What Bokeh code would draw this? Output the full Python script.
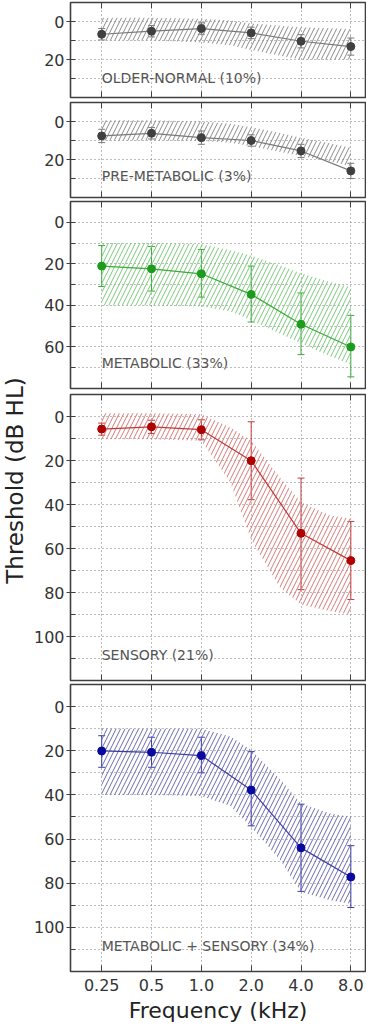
from math import pi
from bokeh.plotting import figure
from bokeh.models import (Range1d, FixedTicker, LogAxis, Whisker, TeeHead,
                          ColumnDataSource, CustomJSTickFormatter)
from bokeh.layouts import column, row
from bokeh.embed import file_html
from bokeh.resources import INLINE
from bokeh.core.properties import value

# ---------------- data ----------------
freqs = [0.25, 0.5, 1.0, 2.0, 4.0, 8.0]
freq_labels = ["0.25", "0.5", "1.0", "2.0", "4.0", "8.0"]
band_freqs = [0.25, 0.5, 1.0, 1.5, 2.0, 3.0, 4.0, 6.0, 8.0]

names = ["OLDER-NORMAL (10%)", "PRE-METABOLIC (3%)", "METABOLIC (33%)",
         "SENSORY (21%)", "METABOLIC + SENSORY (34%)"]

older_mean = [6.7, 5.1, 3.7, 6.0, 10.4, 13.2]
older_lo = [3.7, 2.1, 0.7, 3.0, 6.9, 8.7]
older_hi = [9.7, 8.1, 6.7, 9.0, 13.9, 17.7]
older_top = [-2.0, -2.0, -1.5, -0.5, 1.0, 2.2, 3.0, 3.6, 4.0]
older_bot = [10.0, 10.0, 11.0, 12.5, 15.0, 18.0, 20.0, 20.0, 20.0]

premet_mean = [7.6, 6.2, 8.5, 10.0, 15.5, 26.0]
premet_lo = [4.1, 3.2, 5.0, 7.0, 12.0, 22.0]
premet_hi = [11.1, 9.2, 12.0, 13.0, 19.0, 30.0]
premet_top = [-0.7, -0.7, 0.0, 1.2, 3.0, 6.0, 8.5, 11.5, 13.8]
premet_bot = [10.0, 10.0, 10.2, 11.2, 13.0, 16.0, 18.2, 21.0, 23.5]

met_mean = [21.1, 22.4, 24.8, 34.7, 49.1, 60.0]
met_lo = [11.2, 11.7, 13.1, 21.1, 34.0, 44.8]
met_hi = [30.9, 33.1, 36.0, 48.0, 63.7, 74.4]
met_top = [10.0, 10.0, 10.4, 13.5, 16.0, 20.8, 24.5, 28.8, 31.2]
met_bot = [40.0, 40.0, 40.5, 43.0, 47.2, 53.6, 58.4, 64.5, 68.5]

sens_mean = [5.7, 4.7, 6.0, 20.1, 53.1, 65.5]
sens_lo = [3.0, 1.7, 1.5, 2.4, 28.0, 47.7]
sens_hi = [8.5, 7.7, 10.6, 37.8, 78.7, 83.2]
sens_top = [-1.5, -1.5, -1.0, 5.0, 11.0, 28.0, 39.0, 45.0, 46.5]
sens_bot = [10.3, 10.3, 11.0, 30.0, 56.0, 78.0, 85.5, 88.5, 90.0]

ms_mean = [20.1, 20.7, 22.2, 37.8, 64.0, 77.2]
ms_lo = [13.2, 13.9, 13.9, 20.4, 44.2, 63.0]
ms_hi = [27.5, 27.5, 30.0, 54.0, 83.7, 91.0]
ms_top = [10.0, 10.0, 10.0, 13.6, 19.7, 33.0, 43.9, 48.4, 50.0]
ms_bot = [40.0, 40.0, 40.5, 45.0, 54.5, 69.6, 84.0, 87.7, 89.3]

y_max = [40, 40, 80, 120, 120]

# ---------------- styling ----------------
FONT = "DejaVu Sans"
styles = [
    dict(mk="#404040", ln="#7a7a7a", ht="#8a8a8a"),
    dict(mk="#404040", ln="#7a7a7a", ht="#8a8a8a"),
    dict(mk="#1c9c1c", ln="#3aaa3a", ht="#7cc87c"),
    dict(mk="#b00000", ln="#c03a3a", ht="#d67a7a"),
    dict(mk="#0a0a9e", ln="#3c3ca6", ht="#6a6aae"),
]
series = [
    (older_mean, older_lo, older_hi, older_top, older_bot),
    (premet_mean, premet_lo, premet_hi, premet_top, premet_bot),
    (met_mean, met_lo, met_hi, met_top, met_bot),
    (sens_mean, sens_lo, sens_hi, sens_top, sens_bot),
    (ms_mean, ms_lo, ms_hi, ms_top, ms_bot),
]
label_y = [29.5, 28.5, 67.6, 108.5, 108.3]
heights = [99, 100, 192, 291, 344]
borders = [(2, 2), (3, 2), (2, 3), (3, 2), (2, 55)]

X_LO, X_HI = 0.162, 9.81
PANEL_W = 338

fmt_js = CustomJSTickFormatter(args=dict(vals=freqs, labs=freq_labels),
                               code="const i = vals.indexOf(tick); return i >= 0 ? labs[i] : '';")


def inner_xaxis(show):
    ax = LogAxis(ticker=FixedTicker(ticks=freqs),
                 axis_line_color=None,
                 major_tick_in=6, major_tick_out=0,
                 minor_tick_in=0, minor_tick_out=0,
                 major_tick_line_color="#404040", major_tick_line_width=1)
    if show:
        ax.formatter = fmt_js
        ax.major_label_text_font = FONT
        ax.major_label_text_font_size = "16px"
        ax.major_label_text_color = "#333333"
        ax.major_label_standoff = 7
    else:
        ax.formatter = CustomJSTickFormatter(code="return '';")
        ax.major_label_text_font_size = "0px"
        ax.major_label_standoff = 0
    return ax


panels = []
for i in range(5):
    mean, lo, hi, top, bot = series[i]
    st = styles[i]
    ymax = y_max[i]
    bt, bb = borders[i]
    p = figure(width=PANEL_W, height=heights[i], output_backend="svg",
               toolbar_location=None, x_axis_type="log", x_axis_location=None,
               x_range=Range1d(X_LO, X_HI), y_range=Range1d(ymax, -10),
               min_border_left=42, min_border_right=1,
               min_border_top=bt, min_border_bottom=bb,
               outline_line_color="#404040", outline_line_width=1.6,
               background_fill_color="white", border_fill_color="white")

    majors = list(range(0, ymax, 20))
    minors = list(range(10, ymax, 20))
    p.yaxis.ticker = FixedTicker(ticks=majors, minor_ticks=minors)
    p.yaxis.axis_line_color = None
    p.yaxis.major_tick_in = 5
    p.yaxis.major_tick_out = 4
    p.yaxis.minor_tick_in = 5
    p.yaxis.minor_tick_out = 0
    p.yaxis.major_tick_line_color = "#404040"
    p.yaxis.minor_tick_line_color = "#404040"
    p.yaxis.major_label_text_font = FONT
    p.yaxis.major_label_text_font_size = "16px"
    p.yaxis.major_label_text_color = "#333333"
    p.yaxis.major_label_standoff = 2

    p.xgrid.ticker = FixedTicker(ticks=freqs)
    p.ygrid.ticker = FixedTicker(ticks=list(range(0, ymax, 10)))
    for g in (p.xgrid, p.ygrid):
        g.grid_line_color = "#7a7a7a"
        g.grid_line_dash = "1 3"
        g.grid_line_width = 1

    p.add_layout(inner_xaxis(False), "above")
    p.add_layout(inner_xaxis(i == 4), "below")
    if i == 4:
        ax = p.below[-1]
        ax.axis_label = "Frequency (kHz)"
        ax.axis_label_text_font = FONT
        ax.axis_label_text_font_size = "22px"
        ax.axis_label_text_font_style = "normal"
        ax.axis_label_text_color = "#222222"
        ax.axis_label_standoff = 4

    # hatched template band
    p.patch(x=band_freqs + band_freqs[::-1], y=top + bot[::-1],
            fill_color="white", fill_alpha=0, line_color=None,
            hatch_pattern="/", hatch_color=st["ht"], hatch_weight=1, hatch_scale=9)

    src = ColumnDataSource(dict(f=freqs, m=mean, lo=lo, hi=hi))
    p.line("f", "m", source=src, line_color=st["ln"], line_width=1.2)
    w = Whisker(source=src, base="f", lower="lo", upper="hi",
                line_color=st["ln"], line_width=1,
                upper_head=TeeHead(size=7, line_color=st["ln"], line_width=1),
                lower_head=TeeHead(size=7, line_color=st["ln"], line_width=1))
    p.add_layout(w)
    p.scatter("f", "m", source=src, size=8, fill_color=st["mk"], line_color=st["mk"])

    p.text(x=[freqs[0]], y=[label_y[i]], text=[names[i]],
           text_font=value(FONT), text_font_size="14px", text_color="#555555",
           text_align="left", text_baseline="middle")
    panels.append(p)

H_TOTAL = sum(heights)
tf = figure(width=28, height=H_TOTAL, output_backend="svg", toolbar_location=None,
            x_range=Range1d(0, 28), y_range=Range1d(0, H_TOTAL),
            x_axis_location=None, y_axis_location=None,
            min_border=0, outline_line_color=None)
tf.grid.visible = False
tf.text(x=[14], y=[H_TOTAL - 480], text=["Threshold (dB HL)"], angle=pi / 2,
        text_align="center", text_baseline="middle",
        text_font=value(FONT), text_font_size="23px", text_color="#222222")

layout = row(tf, column(*panels))
open("out.html", "w").write(file_html(layout, INLINE))
